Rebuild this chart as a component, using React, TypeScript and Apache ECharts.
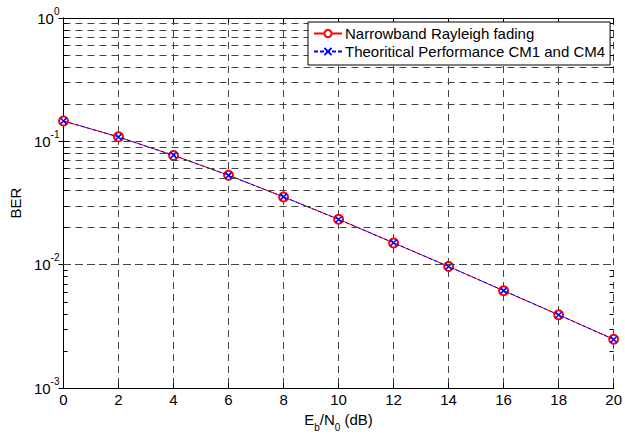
import React, { useEffect, useRef } from "react";
import * as echarts from "echarts";

// Eb/N0 in dB
const snrDb = [0, 2, 4, 6, 8, 10, 12, 14, 16, 18, 20];
// Simulated BER, narrowband Rayleigh fading
const berSim = [0.1462, 0.1088, 0.0769, 0.0532, 0.0354, 0.0234, 0.01502, 0.00969, 0.00615, 0.00393, 0.00249];
// Theoretical BER curve
const berTheory = [0.1464, 0.1085, 0.0771, 0.053, 0.0355, 0.0233, 0.01506, 0.00966, 0.00617, 0.00392, 0.00248];
// Minor log grid values (2..9 in each decade)
const minorGrid = [
  0.002, 0.003, 0.004, 0.005, 0.006, 0.007, 0.008, 0.009,
  0.02, 0.03, 0.04, 0.05, 0.06, 0.07, 0.08, 0.09,
  0.2, 0.3, 0.4, 0.5, 0.6, 0.7, 0.8, 0.9,
];

const X_MIN = 0;
const X_MAX = 20;
const FONT = "'Liberation Sans', Arial, sans-serif";
const GRID_COLOR = "#444";
const DASH = [7, 5];
// minor tick length in x data units (about 4px)
const MINOR_TICK = 0.15;

export default function App() {
  const ref = useRef<HTMLDivElement>(null);

  useEffect(() => {
    if (!ref.current) return;
    const chart = echarts.init(ref.current, undefined, { renderer: "svg" });

    const powerLabel = (v: number) => {
      const e = Math.round(Math.log10(v));
      return `{b|10}{s|${e}}`;
    };

    const minorTicks: any[] = [];
    minorGrid.forEach((v) => {
      minorTicks.push([{ coord: [X_MIN, v] }, { coord: [X_MIN + MINOR_TICK, v] }]);
      minorTicks.push([{ coord: [X_MAX - MINOR_TICK, v] }, { coord: [X_MAX, v] }]);
    });

    chart.setOption({
      animation: false,
      backgroundColor: "#fff",
      grid: { left: 62, top: 18, right: 8, bottom: 39, containLabel: false },
      legend: {
        data: ["Narrowband Rayleigh fading", "Theoritical Performance CM1 and CM4"],
        orient: "vertical",
        left: 308,
        top: 22,
        z: 20,
        backgroundColor: "#fff",
        borderColor: "#000",
        borderWidth: 1,
        borderRadius: 0,
        padding: [4, 5, 6, 5],
        itemGap: 3,
        itemWidth: 28,
        itemHeight: 9,
        textStyle: { fontSize: 15, fontFamily: FONT, color: "#000", padding: [0, 0, 0, -2] },
      },
      xAxis: [
        {
          type: "value",
          min: X_MIN,
          max: X_MAX,
          interval: 2,
          name: "{n|E}{sub|b}{n|/N}{sub|0}{n| (dB)}",
          nameLocation: "middle",
          nameGap: 13,
          nameTextStyle: {
            rich: {
              n: { fontSize: 15, fontFamily: FONT, color: "#000", verticalAlign: "top", lineHeight: 20 },
              sub: { fontSize: 10, fontFamily: FONT, color: "#000", verticalAlign: "bottom", lineHeight: 20 },
            },
          },
          axisLine: { show: true, lineStyle: { color: "#000", width: 1 } },
          axisTick: { show: true, inside: true, length: 5, lineStyle: { color: "#000" } },
          axisLabel: { fontSize: 15, fontFamily: FONT, color: "#000", margin: 4 },
          splitLine: { show: true, lineStyle: { color: GRID_COLOR, type: DASH, width: 1 } },
        },
        {
          type: "value",
          position: "top",
          min: X_MIN,
          max: X_MAX,
          interval: 2,
          axisLine: { show: true, lineStyle: { color: "#000", width: 1 } },
          axisTick: { show: true, inside: true, length: 5, lineStyle: { color: "#000" } },
          axisLabel: { show: false },
          splitLine: { show: false },
        },
      ],
      yAxis: [
        {
          type: "log",
          logBase: 10,
          min: 0.001,
          max: 1,
          name: "BER",
          nameLocation: "middle",
          nameGap: 36,
          nameTextStyle: { fontSize: 15, fontFamily: FONT, color: "#000" },
          axisLine: { show: true, lineStyle: { color: "#000", width: 1 } },
          axisTick: { show: true, inside: true, length: 5, lineStyle: { color: "#000" } },
          axisLabel: {
            formatter: powerLabel,
            margin: 4,
            rich: {
              b: { fontSize: 15, fontFamily: FONT, color: "#000", verticalAlign: "middle", lineHeight: 24 },
              s: { fontSize: 10, fontFamily: FONT, color: "#000", verticalAlign: "top", lineHeight: 24 },
            },
          },
          splitLine: { show: true, lineStyle: { color: GRID_COLOR, type: DASH, width: 1 } },
        },
        {
          type: "log",
          logBase: 10,
          min: 0.001,
          max: 1,
          position: "right",
          axisLine: { show: true, lineStyle: { color: "#000", width: 1 } },
          axisTick: { show: true, inside: true, length: 5, lineStyle: { color: "#000" } },
          axisLabel: { show: false },
          splitLine: { show: false },
        },
      ],
      series: [
        {
          name: "minor-grid",
          type: "line",
          data: [],
          silent: true,
          z: 1,
          markLine: {
            silent: true,
            symbol: ["none", "none"],
            label: { show: false },
            lineStyle: { color: GRID_COLOR, type: DASH, width: 1 },
            data: minorGrid.map((v) => ({ yAxis: v })),
          },
        },
        {
          name: "minor-ticks",
          type: "line",
          data: [],
          silent: true,
          z: 1,
          markLine: {
            silent: true,
            symbol: ["none", "none"],
            label: { show: false },
            lineStyle: { color: "#000", type: "solid", width: 1 },
            data: minorTicks,
          },
        },
        {
          name: "Narrowband Rayleigh fading",
          type: "line",
          data: snrDb.map((x, i) => [x, berSim[i]]),
          lineStyle: { color: "#ff0000", width: 1 },
          itemStyle: { color: "#ff0000", borderColor: "#ff0000", borderWidth: 1.3 },
          symbol: "emptyCircle",
          symbolSize: 9,
          z: 3,
        },
        {
          name: "Theoritical Performance CM1 and CM4",
          type: "line",
          data: snrDb.map((x, i) => [x, berTheory[i]]),
          lineStyle: { color: "#0000ff", width: 1, type: [4, 2] },
          itemStyle: { color: "#0000ff", borderColor: "#0000ff", borderWidth: 1.5 },
          symbol: "path://M0,0L10,10M10,0L0,10",
          symbolSize: 6,
          z: 4,
        },
      ],
    });

    return () => chart.dispose();
  }, []);

  return (
    <div
      ref={ref}
      style={{ position: "fixed", left: 0, top: 0, width: 625, height: 437, background: "#fff" }}
    />
  );
}
